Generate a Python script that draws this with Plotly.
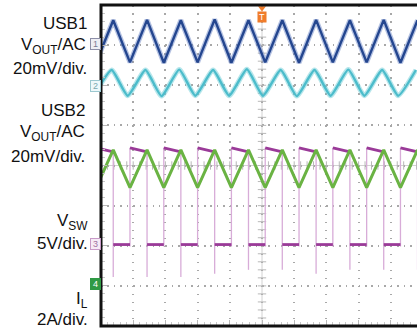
import numpy as np
import plotly.graph_objects as go

# ---------------- data (screen divisions: x 0..10, y 0..8) ----------------
# CH1: USB1 VOUT ripple (triangle vertices)
ch1_x = [-0.15, 0.38, 0.90, 1.43, 1.95, 2.48, 3.00, 3.53, 4.05, 4.58,
         5.10, 5.63, 6.15, 6.68, 7.20, 7.73, 8.25, 8.78, 9.30, 9.83]
ch1_y = [6.57, 7.62, 6.57, 7.63, 6.56, 7.62, 6.57, 7.64, 6.56, 7.62,
         6.57, 7.62, 6.56, 7.63, 6.57, 7.62, 6.57, 7.63, 6.56, 7.62]

# CH2: USB2 VOUT ripple
ch2_x = [-0.22, 0.33, 0.83, 1.38, 1.88, 2.43, 2.93, 3.48, 3.98, 4.53,
         5.03, 5.58, 6.08, 6.63, 7.13, 7.68, 8.18, 8.73, 9.23, 9.78]
ch2_y = [5.74, 6.38, 5.74, 6.38, 5.73, 6.39, 5.74, 6.38, 5.74, 6.40,
         5.74, 6.38, 5.73, 6.38, 5.74, 6.39, 5.74, 6.38, 5.74, 6.38]

# CH4: inductor current IL
il_x = [-0.15, 0.38, 0.90, 1.43, 1.95, 2.48, 3.00, 3.53, 4.05, 4.58,
        5.10, 5.63, 6.15, 6.68, 7.20, 7.73, 8.25, 8.78, 9.30, 9.83]
il_y = [3.45, 4.39, 3.45, 4.39, 3.45, 4.39, 3.45, 4.39, 3.45, 4.39,
        3.45, 4.39, 3.45, 4.39, 3.45, 4.39, 3.45, 4.39, 3.45, 4.39]

# CH3: switch node VSW
sw_rise_x = [-0.15, 0.90, 1.95, 3.00, 4.05, 5.10, 6.15, 7.20, 8.25, 9.30]
sw_fall_x = [0.38, 1.43, 2.48, 3.53, 4.58, 5.63, 6.68, 7.73, 8.78, 9.83]
sw_high_start = 4.44
sw_high_end = 4.34
sw_low = 2.03
sw_undershoot = [1.22, 1.22, 1.22, 1.30, 1.40, 1.40, 1.30, 1.40, 1.40, 1.40]

label_texts = ["USB1", "V<sub>OUT</sub>/AC", "20mV/div.",
               "USB2", "V<sub>OUT</sub>/AC", "20mV/div.",
               "V<sub>SW</sub>", "5V/div.", "I<sub>L</sub>", "2A/div."]

# ---------------- geometry helpers ----------------
W, H = 417, 328
ML, MT, MB = 101, 5, 2
PW, PH = W - ML, H - MT - MB
PX_DIV_X = 32.2
PX_DIV_Y = PH / 8.0
XMAX = PW / PX_DIV_X


def py2y(py):
    return (H - MB - py) / PX_DIV_Y


def px2p(px):
    return (px - ML) / PW


def py2p(py):
    return (H - MB - py) / PH


# build VSW pieces
hi_x, hi_y, lo_x, lo_y, ed_x, ed_y = [], [], [], [], [], []
for i in range(len(sw_fall_x)):
    hi_x += [sw_rise_x[i], sw_fall_x[i], None]
    hi_y += [sw_high_start, sw_high_end, None]
    ed_x += [sw_rise_x[i], sw_rise_x[i], None, sw_fall_x[i], sw_fall_x[i], None]
    ed_y += [sw_low - 0.05, sw_high_start, None, sw_high_end, sw_undershoot[i], None]
    if i + 1 < len(sw_rise_x):
        lo_x += [sw_fall_x[i], sw_rise_x[i + 1], None]
        lo_y += [sw_low, sw_low, None]

fig = go.Figure()

# centre graticule ticks
tick_pos_y = np.arange(0, 8.01, 0.2)
tick_pos_x = np.arange(0, 10.01, 0.2)
fig.add_trace(go.Scatter(x=[5] * len(tick_pos_y), y=tick_pos_y, mode="markers",
                         marker=dict(symbol="line-ew", size=6, line=dict(width=1, color="#b8b8b8")),
                         hoverinfo="skip", showlegend=False))
fig.add_trace(go.Scatter(x=tick_pos_x, y=[4] * len(tick_pos_x), mode="markers",
                         marker=dict(symbol="line-ns", size=6, line=dict(width=1, color="#b8b8b8")),
                         hoverinfo="skip", showlegend=False))

# CH1
fig.add_trace(go.Scatter(x=ch1_x, y=ch1_y, mode="lines",
                         line=dict(color="rgba(90,120,190,0.45)", width=5),
                         hoverinfo="skip", showlegend=False))
fig.add_trace(go.Scatter(x=ch1_x, y=ch1_y, mode="lines",
                         line=dict(color="#24468f", width=2.4), showlegend=False))
# CH2
fig.add_trace(go.Scatter(x=ch2_x, y=ch2_y, mode="lines",
                         line=dict(color="rgba(110,205,215,0.5)", width=5, shape="spline", smoothing=0.5),
                         hoverinfo="skip", showlegend=False))
fig.add_trace(go.Scatter(x=ch2_x, y=ch2_y, mode="lines",
                         line=dict(color="#4cbccb", width=2.4, shape="spline", smoothing=0.5),
                         showlegend=False))
# VSW
fig.add_trace(go.Scatter(x=ed_x, y=ed_y, mode="lines",
                         line=dict(color="#d8acd8", width=1.3), showlegend=False))
fig.add_trace(go.Scatter(x=hi_x, y=hi_y, mode="lines",
                         line=dict(color="#9a3a98", width=2.8), showlegend=False))
fig.add_trace(go.Scatter(x=lo_x, y=lo_y, mode="lines",
                         line=dict(color="#9a3a98", width=2.8), showlegend=False))
# IL
fig.add_trace(go.Scatter(x=il_x, y=il_y, mode="lines",
                         line=dict(color="#6ab343", width=3), showlegend=False))

# trigger marker
fig.add_trace(go.Scatter(x=[5], y=[py2y(8)], mode="markers", cliponaxis=False,
                         marker=dict(symbol="triangle-down", size=7, color="#f07c2a"),
                         hoverinfo="skip", showlegend=False))

shapes = [
    dict(type="line", xref="x", yref="y", x0=5, x1=5, y0=0, y1=8,
         line=dict(color="#d2d2d2", width=1), layer="below"),
    dict(type="line", xref="x", yref="y", x0=0, x1=10, y0=4, y1=4,
         line=dict(color="#d2d2d2", width=1), layer="below"),
    dict(type="rect", xref="paper", yref="paper", x0=0, x1=1.2, y0=0, y1=1,
         line=dict(color="#111111", width=3), layer="above"),
]

annotations = []
label_pos = [(88.5, 22), (88, 45.5), (88.5, 67.5),
             (87, 109), (86.5, 132), (87, 155),
             (90, 221), (90, 242), (90, 299), (89.5, 318.5)]
for txt, (px, py) in zip(label_texts, label_pos):
    annotations.append(dict(x=px2p(px), y=py2p(py + 1), xref="paper", yref="paper", text=txt,
                            showarrow=False, xanchor="right", yanchor="middle",
                            font=dict(family="Liberation Sans, Arial", size=17, color="#111111")))

markers = [("1", 44, "#8d8fa8", "#eeeef4", "#7a7c95"),
           ("2", 86, "#9cc8d0", "#eef8fa", "#7aa8b0"),
           ("3", 244, "#c89ac8", "#f6eaf6", "#a070a0"),
           ("4", 284, "#2f9a45", "#2f9a45", "#ffffff")]
for t, py, bc, bg, fc in markers:
    annotations.append(dict(x=px2p(95), y=py2p(py), xref="paper", yref="paper", text=t,
                            showarrow=False, xanchor="center", yanchor="middle",
                            bordercolor=bc, bgcolor=bg, borderwidth=1, borderpad=0,
                            width=9, height=10,
                            font=dict(family="Liberation Sans, Arial", size=9, color=fc)))
annotations.append(dict(x=px2p(262), y=py2p(17.5), xref="paper", yref="paper", text="T",
                        showarrow=False, xanchor="center", yanchor="middle",
                        bgcolor="#f07c2a", borderpad=0, width=8, height=10,
                        font=dict(family="Liberation Sans, Arial", size=9, color="#ffffff")))

fig.update_layout(
    width=W, height=H,
    margin=dict(l=ML, r=0, t=MT, b=MB, pad=0),
    paper_bgcolor="white", plot_bgcolor="white",
    showlegend=False,
    shapes=shapes, annotations=annotations,
    xaxis=dict(range=[0, XMAX], dtick=1, tick0=0, showgrid=True,
               gridcolor="#a8a8a8", gridwidth=1.5, griddash="1.5px,6.525px",
               zeroline=False, showticklabels=False, showline=False,
               ticks="inside", ticklen=6, tickcolor="#b8b8b8",
               minor=dict(dtick=0.2, ticks="inside", ticklen=4, tickcolor="#c8c8c8", showgrid=False),
               fixedrange=True),
    yaxis=dict(range=[0, 8], dtick=1, tick0=0, showgrid=True,
               gridcolor="#a8a8a8", gridwidth=1.5, griddash="1.5px,4.94px",
               zeroline=False, showticklabels=False, showline=False,
               ticks="inside", ticklen=6, tickcolor="#b8b8b8",
               minor=dict(dtick=0.2, ticks="inside", ticklen=4, tickcolor="#c8c8c8", showgrid=False),
               fixedrange=True),
)

fig.write_html("out.html", config={"displayModeBar": False},
               post_script="document.body.style.margin='0px';document.body.style.overflow='hidden';")
